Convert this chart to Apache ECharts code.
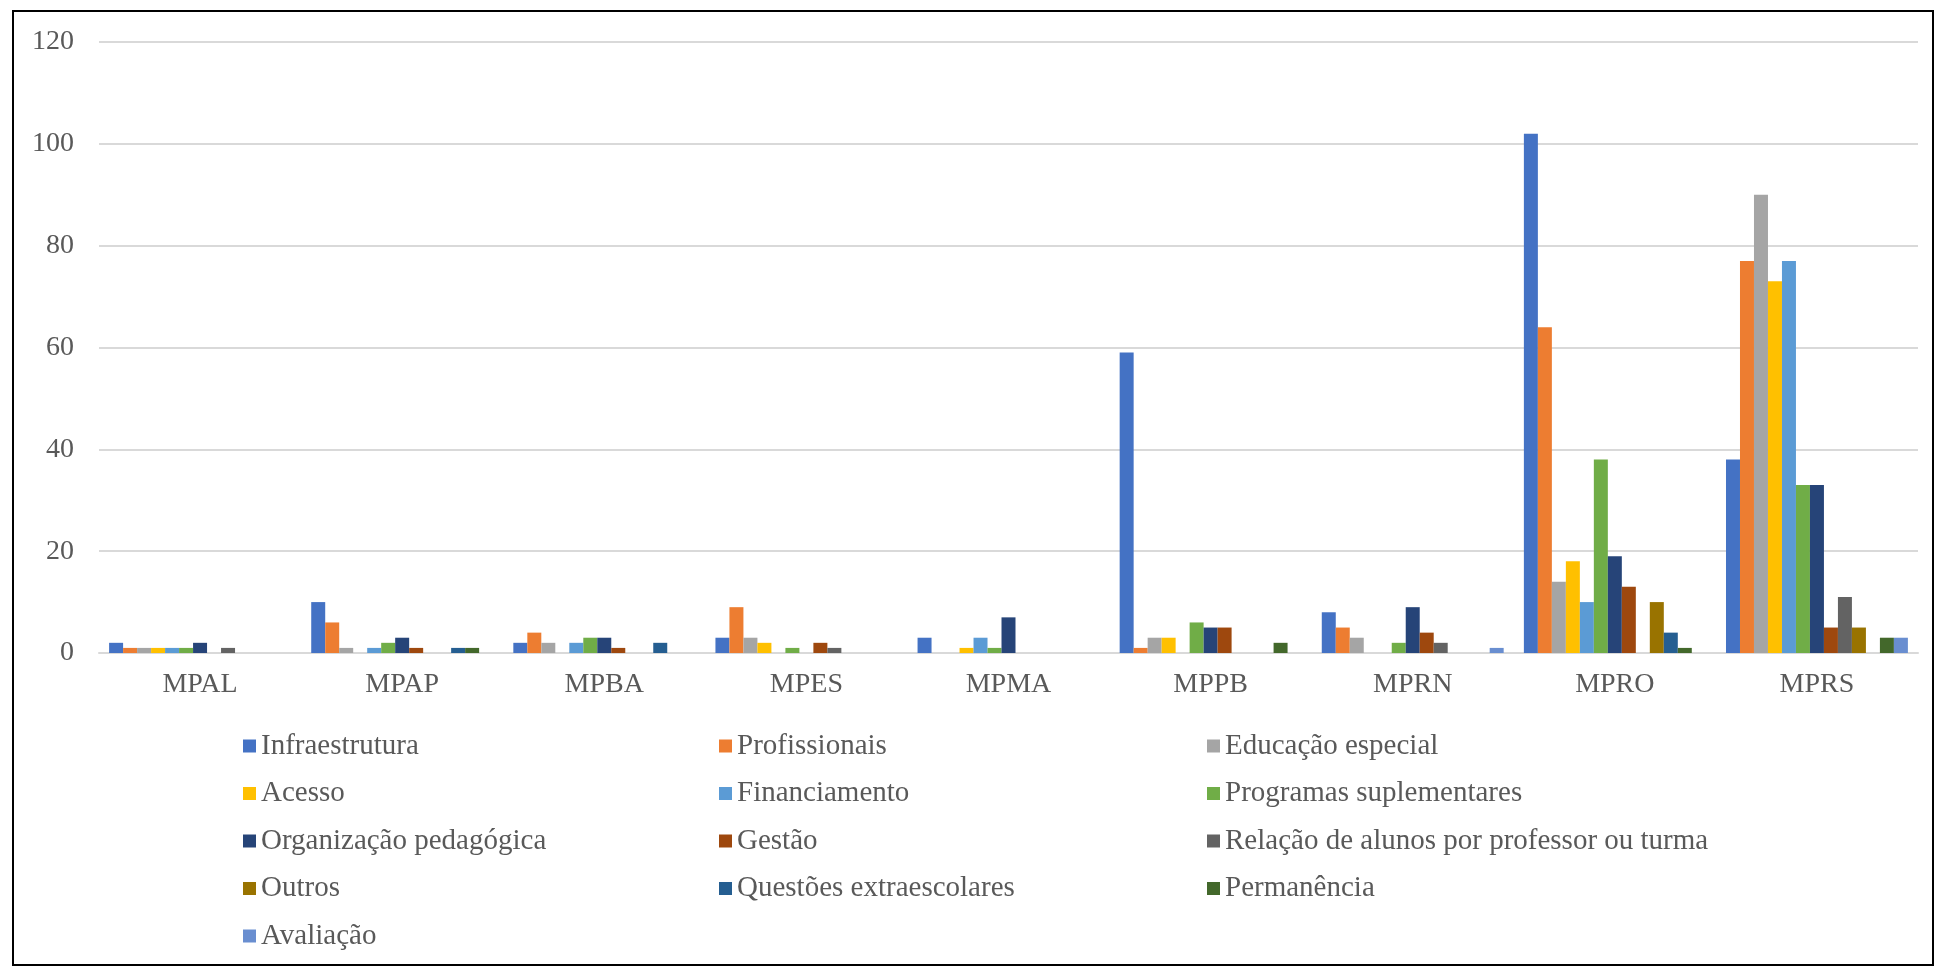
<!DOCTYPE html>
<html>
<head>
<meta charset="utf-8">
<script src="https://cdn.jsdelivr.net/npm/echarts@6/dist/echarts.min.js"></script>
<style>
html,body{margin:0;padding:0;background:#fff;}
#frame{position:absolute;left:12px;top:10px;width:1922px;height:956px;border:2px solid #000;box-sizing:border-box;}
#chart{position:absolute;left:0;top:0;width:1937px;height:968px;}
</style>
</head>
<body>
<div id="frame"></div>
<div id="chart"></div>
<script>
const categories = ["MPAL","MPAP","MPBA","MPES","MPMA","MPPB","MPRN","MPRO","MPRS"];
const seriesNames = ["Infraestrutura","Profissionais","Educação especial","Acesso","Financiamento","Programas suplementares","Organização pedagógica","Gestão","Relação de alunos por professor ou turma","Outros","Questões extraescolares","Permanência","Avaliação"];
const infraestrutura   = [2,10,2,3,3,59,8,102,38];
const profissionais    = [1,6,4,9,0,1,5,64,77];
const educacaoEspecial = [1,1,2,3,0,3,3,14,90];
const acesso           = [1,0,0,2,1,3,0,18,73];
const financiamento    = [1,1,2,0,3,0,0,10,77];
const programas        = [1,2,3,1,1,6,2,38,33];
const organizacao      = [2,3,3,0,7,5,9,19,33];
const gestao           = [0,1,1,2,0,5,4,13,5];
const relacao          = [1,0,0,1,0,0,2,0,11];
const outros           = [0,0,0,0,0,0,0,10,5];
const questoes         = [0,1,2,0,0,0,0,4,0];
const permanencia      = [0,1,0,0,0,2,0,1,3];
const avaliacao        = [0,0,0,0,0,0,1,0,3];
const yTicks = [0,20,40,60,80,100,120];

const values = [infraestrutura,profissionais,educacaoEspecial,acesso,financiamento,programas,organizacao,gestao,relacao,outros,questoes,permanencia,avaliacao];
const colors = ["#4472C4","#ED7D31","#A5A5A5","#FFC000","#5B9BD5","#70AD47","#264478","#9E480E","#636363","#997300","#255E91","#43682B","#698ED0"];

const font = "'Liberation Serif','Times New Roman',serif";
const legendBase = {
  orient:'vertical', top:730, itemWidth:13, itemHeight:13, itemGap:15.5, icon:'rect',
  selectedMode:false, padding:0,
  textStyle:{fontFamily:font, fontSize:29, color:'#595959', lineHeight:32}
};
const col = (idxs) => idxs.map(i => seriesNames[i]);

const chart = echarts.init(document.getElementById('chart'), null, {renderer:'canvas'});
chart.setOption({
  animation:false,
  color: colors,
  grid:{left:99, right:19, top:42, bottom:315, containLabel:false},
  legend:[
    Object.assign({}, legendBase, {left:243, data: col([0,3,6,9,12])}),
    Object.assign({}, legendBase, {left:719, data: col([1,4,7,10])}),
    Object.assign({}, legendBase, {left:1207, data: col([2,5,8,11])})
  ],
  xAxis:{
    type:'category', data:categories,
    axisLine:{show:true, lineStyle:{color:'#D9D9D9', width:2}},
    axisTick:{show:false},
    axisLabel:{fontFamily:font, fontSize:28, color:'#595959', margin:18}
  },
  yAxis:{
    type:'value', min:yTicks[0], max:yTicks[yTicks.length-1], interval:20,
    axisLine:{show:false}, axisTick:{show:false},
    splitLine:{lineStyle:{color:'#D9D9D9', width:2}},
    axisLabel:{fontFamily:font, fontSize:28, color:'#595959', margin:25}
  },
  series: seriesNames.map((n,i)=>({
    name:n, type:'bar', data:values[i], barGap:'0%', barCategoryGap:'10%',
    itemStyle:{color:colors[i]}
  }))
});
</script>
</body>
</html>
